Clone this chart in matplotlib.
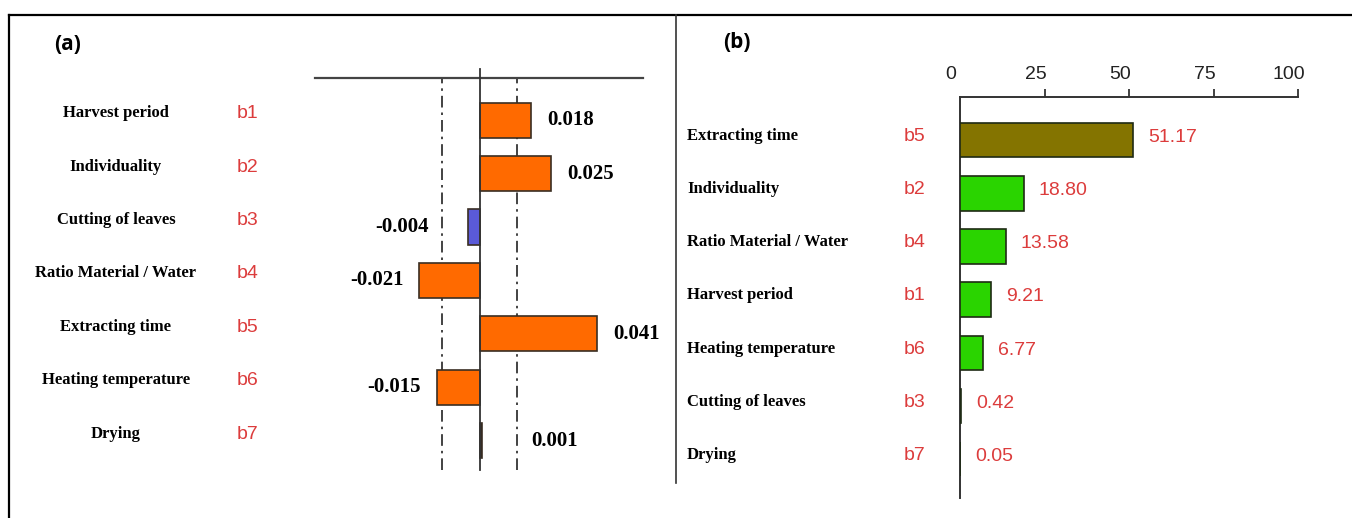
import matplotlib
matplotlib.use("Agg")
import matplotlib.pyplot as plt
from matplotlib import font_manager
from matplotlib.lines import Line2D
from matplotlib.transforms import blended_transform_factory, ScaledTranslation

# ── Datos ────────────────────────────────────────────────────────────────────

# (a) coeficientes por factor
factors_a = ["Harvest period", "Individuality", "Cutting of leaves",
             "Ratio Material / Water", "Extracting time", "Heating temperature", "Drying"]
codes_a = ["b1", "b2", "b3", "b4", "b5", "b6", "b7"]
coef_a = [0.018, 0.025, -0.004, -0.021, 0.041, -0.015, 0.001]
limit_a = 0.013  # límites de significancia (líneas punto-raya)

# (b) contribución (%) ordenada
factors_b = ["Extracting time", "Individuality", "Ratio Material / Water",
             "Harvest period", "Heating temperature", "Cutting of leaves", "Drying"]
codes_b = ["b5", "b2", "b4", "b1", "b6", "b3", "b7"]
contrib_b = [51.17, 18.80, 13.58, 9.21, 6.77, 0.42, 0.05]
ticks_b = [0, 25, 50, 75, 100]

# ── Estilo ───────────────────────────────────────────────────────────────────

ORANGE = "#ff6a00"
BLUE = "#5a5ad8"
OLIVE = "#847400"
GREEN = "#2ad400"
RED = "#dc3c3c"
EDGE = "#3a2e22"
SERIF = "Liberation Serif"


def pick(*names):
    for n in names:
        try:
            font_manager.findfont(n, fallback_to_default=False)
            return n
        except ValueError:
            continue
    return "DejaVu Sans"


NARROW = pick("Liberation Sans Narrow", "DejaVu Sans Condensed", "Liberation Sans")
LABEL = pick("Open Sans", "Lato")

colors_a = [ORANGE, ORANGE, BLUE, ORANGE, ORANGE, ORANGE, "#222222"]
colors_b = [OLIVE] + [GREEN] * 6

W, H = 1352, 518


def box(l, t, r, b):
    return [l / W, 1 - b / H, (r - l) / W, (b - t) / H]


fig = plt.figure(figsize=(W / 100, H / 100), dpi=100)

# marco exterior y separador
fig.add_artist(Line2D([9 / W, 1], [1 - 15 / H] * 2, color="black", lw=1.6))
fig.add_artist(Line2D([9 / W] * 2, [0, 1 - 15 / H], color="black", lw=1.6))
fig.add_artist(Line2D([676 / W] * 2, [1 - 483 / H, 1 - 15 / H], color="#333333", lw=1.2))

fig.text(54 / W, 1 - 45 / H, "(a)", family=LABEL, weight="bold", fontsize=15, va="center")
fig.text(723 / W, 1 - 42 / H, "(b)", family=LABEL, weight="bold", fontsize=15, va="center")

# ── Panel (a) ────────────────────────────────────────────────────────────────

ax = fig.add_axes(box(315, 78, 643, 470))
rows = list(range(len(coef_a)))
ax.barh(rows, coef_a, height=0.66, color=colors_a, edgecolor=EDGE, linewidth=1.2, zorder=3)
ax.set_xlim(-0.0574, 0.0570)
ax.set_ylim(6.55, -0.79)
for s in ["left", "right", "bottom"]:
    ax.spines[s].set_visible(False)
ax.spines["top"].set_linewidth(1.6)
ax.spines["top"].set_color("#444444")
ax.set_xticks([])
ax.set_yticks([])
ax.patch.set_alpha(0)
ax.plot([0, 0], [6.55, -0.95], color="#333333", lw=1.3, clip_on=False, zorder=4)
for x in (-limit_a, limit_a):
    ax.axvline(x, color="#222222", lw=1.2, dashes=(7, 3, 1.5, 3), zorder=2)

lab = blended_transform_factory(fig.transFigure, ax.transData)
for i, (name, code, v) in enumerate(zip(factors_a, codes_a, coef_a)):
    ax.text(116 / W, i - 0.13, name, transform=lab, ha="center", va="center",
            family=SERIF, weight="bold", fontsize=12)
    ax.text(248 / W, i - 0.12, code, transform=lab, ha="center", va="center",
            family=NARROW, fontsize=14, color=RED)
    anchor = v if abs(v) > limit_a else (limit_a if v > 0 else -limit_a)
    pad = 16 if abs(v) > limit_a else 14
    off = ScaledTranslation((pad if v > 0 else -pad) / 100, 0, fig.dpi_scale_trans)
    ax.text(anchor, i, f"{v:.3f}", transform=ax.transData + off,
            ha="left" if v > 0 else "right", va="center",
            family=SERIF, weight="bold", fontsize=15)

# ── Panel (b) ────────────────────────────────────────────────────────────────

bx = fig.add_axes(box(960, 97, 1298, 498))
rows = list(range(len(contrib_b)))
bx.barh(rows, contrib_b, height=0.65, color=colors_b, edgecolor="#1e2a14", linewidth=1.2, zorder=3)
bx.set_xlim(0, 100)
bx.set_ylim(6.73, -0.81)
bx.spines["right"].set_visible(False)
bx.spines["bottom"].set_visible(False)
for s in ["top", "left"]:
    bx.spines[s].set_linewidth(1.4)
    bx.spines[s].set_color("#333333")
bx.set_yticks([])
bx.patch.set_alpha(0)
bx.xaxis.tick_top()
bx.set_xticks(ticks_b)
bx.set_xticklabels([str(t) for t in ticks_b], family=NARROW, fontsize=14)
bx.tick_params(axis="x", direction="out", length=6, width=1.2, pad=4, colors="#222222")
bx.xaxis.get_major_ticks()[0].tick2line.set_visible(False)
shift = ScaledTranslation(-9 / 100, 0, fig.dpi_scale_trans)
for t in bx.get_xticklabels():
    t.set_transform(t.get_transform() + shift)

lab = blended_transform_factory(fig.transFigure, bx.transData)
for i, (name, code, v) in enumerate(zip(factors_b, codes_b, contrib_b)):
    bx.text(687 / W, i - 0.08, name, transform=lab, ha="left", va="center",
            family=SERIF, weight="bold", fontsize=12)
    bx.text(904 / W, i - 0.07, code, transform=lab, ha="left", va="center",
            family=NARROW, fontsize=14, color=RED)
    off = ScaledTranslation(15 / 100, 0, fig.dpi_scale_trans)
    bx.text(v, i - 0.05, f"{v:.2f}", transform=bx.transData + off, ha="left", va="center",
            family=NARROW, fontsize=14, color=RED)

fig.savefig("out.png", dpi=100)
